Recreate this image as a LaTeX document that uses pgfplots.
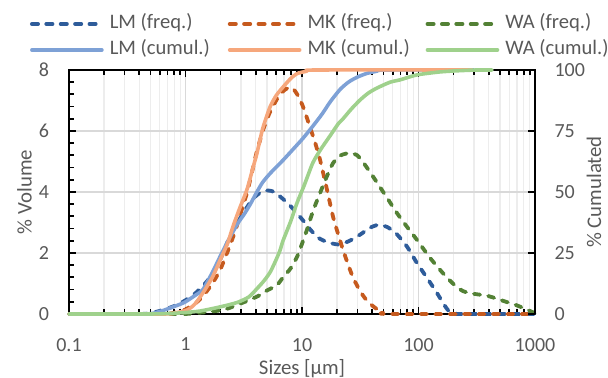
\documentclass[border=0pt]{standalone}
\usepackage{fontspec}
\setmainfont{Carlito}
\usepackage{pgfplots}
\pgfplotsset{compat=1.18}
\definecolor{lmf}{HTML}{2E5C9A}
\definecolor{mkf}{HTML}{C65A1E}
\definecolor{waf}{HTML}{538135}
\definecolor{lmc}{HTML}{7EA1D6}
\definecolor{mkc}{HTML}{F6A77C}
\definecolor{wac}{HTML}{9FD18C}
\definecolor{txt}{HTML}{595959}
\definecolor{gmaj}{HTML}{D9D9D9}
\definecolor{gmin}{HTML}{EDEDED}
\tikzset{
  freq/.style={line width=1.9pt, dash pattern=on 3.1pt off 4.1pt, line cap=round, line join=round},
  cum/.style={line width=1.8pt, line cap=round, line join=round},
}
\newcommand{\legtxt}[1]{\makebox[59pt][l]{#1}}
\begin{document}
\begin{tikzpicture}
\begin{axis}[scale only axis, width=233pt, height=122pt,
  xmode=log, xmin=0.1, xmax=1000, clip=false,
  /pgf/number format/assume math mode=true,
  tick align=inside,
  ticklabel style={font=\fontsize{10}{12}\selectfont, text=txt},
  label style={font=\fontsize{10.4}{12}\selectfont, text=txt},
  axis line style={black, line width=1pt},
  major tick style={black, line width=0.9pt},
  minor tick style={black, line width=0.9pt},
  major tick length=3.5pt, minor tick length=2.5pt,
  name=ax1,
  ymin=0, ymax=8, ytick={0,2,4,6,8}, minor y tick num=4, ytick pos=left,
  xtick={0.1,1,10,100,1000}, xticklabels={0.1,1,10,100,1000},
  minor xtick={0.2,0.3,0.4,0.5,0.6,0.7,0.8,0.9,2,3,4,5,6,7,8,9,20,30,40,50,60,70,80,90,200,300,400,500,600,700,800,900},
  xmajorgrids, xminorgrids, ymajorgrids,
  major grid style={gmaj, line width=0.6pt},
  minor grid style={gmin, line width=0.6pt},
  xticklabel style={yshift=-8.5pt},
  yticklabel style={xshift=-6.5pt},
  xlabel={Sizes [µm]}, ylabel={\% Volume},
  xlabel style={at={(axis description cs:0.5,-0.25)}, anchor=base},
  ylabel style={at={(axis description cs:-0.0955,0.5)}, anchor=center},
]
\addplot[freq, lmf, smooth, tension=0.4] coordinates {(0.1,0) (0.4,0) (0.5,0.03) (0.6,0.1) (0.7,0.18) (0.8,0.26) (0.9,0.35) (1.0,0.45) (1.15,0.6) (1.33,0.82) (1.55,1.1) (1.79,1.45) (2.05,1.9) (2.41,2.55) (2.8,3.0) (3.24,3.4) (3.8,3.78) (4.36,3.97) (5.1,4.05) (5.8,4.0) (6.5,3.85) (7.7,3.6) (9.06,3.3) (10.3,3.05) (11.7,2.78) (13.8,2.5) (16.4,2.36) (20.4,2.28) (25,2.38) (31.5,2.6) (38,2.82) (45,2.92) (54,2.85) (65,2.62) (80,2.2) (97,1.67) (120,1.15) (144,0.69) (165,0.32) (180,0.12) (200,0.03) (230,0) (1000,0)};
\addplot[freq, mkf, smooth, tension=0.4] coordinates {(0.1,0) (0.6,0) (0.75,0.02) (0.9,0.08) (1.0,0.15) (1.2,0.33) (1.41,0.58) (1.7,1.0) (1.98,1.44) (2.3,2.05) (2.66,2.7) (3.0,3.35) (3.37,3.97) (3.75,4.7) (4.11,5.35) (4.7,6.1) (5.31,6.62) (6.0,7.0) (6.47,7.2) (7.3,7.38) (8.2,7.42) (9.1,7.2) (10.2,6.8) (11.7,6.13) (13,5.6) (14.3,5.05) (16.4,4.07) (18.5,3.18) (20.5,2.6) (22.5,2.1) (25,1.6) (27.4,1.2) (31,0.8) (34.7,0.52) (40,0.28) (44,0.16) (50,0.05) (56,0) (1000,0)};
\addplot[freq, waf, smooth, tension=0.4] coordinates {(0.1,0) (0.9,0) (1.2,0.03) (1.5,0.06) (2.0,0.12) (2.4,0.2) (2.77,0.3) (3.5,0.45) (4.36,0.62) (5.0,0.77) (6.1,0.95) (6.87,1.2) (8,1.5) (9.06,1.87) (10,2.3) (11,2.75) (12.5,3.4) (14.3,3.97) (16.3,4.5) (18.5,4.95) (21.5,5.2) (25.8,5.28) (29.6,5.21) (33.4,4.98) (40,4.55) (46.7,4.16) (55,3.75) (65.3,3.31) (80,2.85) (97,2.43) (125,1.85) (162,1.34) (200,0.98) (241,0.75) (300,0.66) (387,0.6) (470,0.5) (575,0.39) (680,0.3) (789,0.2) (880,0.12) (942,0.07) (1000,0.03)};
\end{axis}
\begin{axis}[scale only axis, width=233pt, height=122pt,
  xmode=log, xmin=0.1, xmax=1000, clip=false,
  /pgf/number format/assume math mode=true,
  tick align=inside,
  ticklabel style={font=\fontsize{10}{12}\selectfont, text=txt},
  label style={font=\fontsize{10.4}{12}\selectfont, text=txt},
  axis line style={black, line width=1pt},
  major tick style={black, line width=0.9pt},
  major tick length=3.5pt,
  name=ax2,
  ymin=0, ymax=100, ytick={0,25,50,75,100},
  axis y line*=right, axis x line=none,
  yticklabel style={xshift=6.25pt},
  ylabel={\% Cumulated},
  ylabel style={at={(axis description cs:1.1266,0.5)}, anchor=center},
  legend columns=3, legend cell align=left,
  legend image code/.code={\draw[#1] (0pt,0pt) -- (35pt,0pt);},
  legend style={draw=none, fill=none, inner sep=0pt, outer sep=0pt,
    at={(axis description cs:-0.0837,1.2295)}, anchor=north west,
    font=\fontsize{10.3}{12}\selectfont, text=txt,
    nodes={inner sep=0pt, text height=7.5pt, text depth=2.5pt},
    row sep=3pt,
    /tikz/every odd column/.append style={column sep=3pt},
    /tikz/every even column/.append style={column sep=0pt}},
]
\addlegendimage{freq, lmf}\addlegendentry{\legtxt{LM (freq.)}}
\addlegendimage{freq, mkf}\addlegendentry{\legtxt{MK (freq.)}}
\addlegendimage{freq, waf}\addlegendentry{\legtxt{WA (freq.)}}
\addplot[cum, lmc, smooth, tension=0.4] coordinates {(0.1,0) (0.45,0) (0.6,1) (0.74,2.5) (0.9,4) (1.0,5) (1.2,7.5) (1.41,10) (1.7,17) (1.98,23.5) (2.41,31.5) (2.8,37) (3.2,41) (3.6,45) (4.1,50) (4.6,54) (5.3,57.5) (6.1,60.5) (6.87,63) (8.2,67) (10.2,72) (12.4,77) (14.9,82) (17.5,87) (21.2,92) (25,95) (29.6,97) (36,98.6) (44,99.5) (52,100) (300,100)};
\addlegendentry{\legtxt{LM (cumul.)}}
\addplot[cum, mkc, smooth, tension=0.4] coordinates {(0.1,0) (0.65,0) (0.8,0.4) (1.03,1.6) (1.2,4) (1.41,8.6) (1.7,15) (1.98,22) (2.3,29) (2.55,35.7) (2.9,43) (3.37,51) (3.75,59) (4.11,66) (4.6,76) (5.31,84.8) (6,89.5) (6.87,93) (8,96.5) (9.06,98.5) (11,99.5) (13.4,100) (290,100)};
\addlegendentry{\legtxt{MK (cumul.)}}
\addplot[cum, wac, smooth, tension=0.4] coordinates {(0.1,0) (0.5,0) (0.8,0.3) (1.0,0.6) (1.33,1.2) (1.98,2.9) (2.77,4.7) (3.5,7) (4.11,10.4) (4.7,13.5) (5.31,17) (5.9,21.5) (6.47,26) (6.87,30) (8,38) (9.06,45.5) (10.5,53) (12.4,62) (14.5,67.5) (17.4,73) (20.5,78) (22.5,80) (26.5,84) (31.5,87.7) (37,90.5) (44,92.6) (57,95) (70,96) (97,98) (152,99.2) (220,99.7) (318,100) (428,100)};
\addlegendentry{\legtxt{WA (cumul.)}}
\end{axis}
\pgfresetboundingbox
\path[use as bounding box] ([xshift=-34.5pt,yshift=-32pt]ax1.south west) rectangle ([xshift=36.5pt,yshift=35pt]ax1.north east);
\end{tikzpicture}
\end{document}
